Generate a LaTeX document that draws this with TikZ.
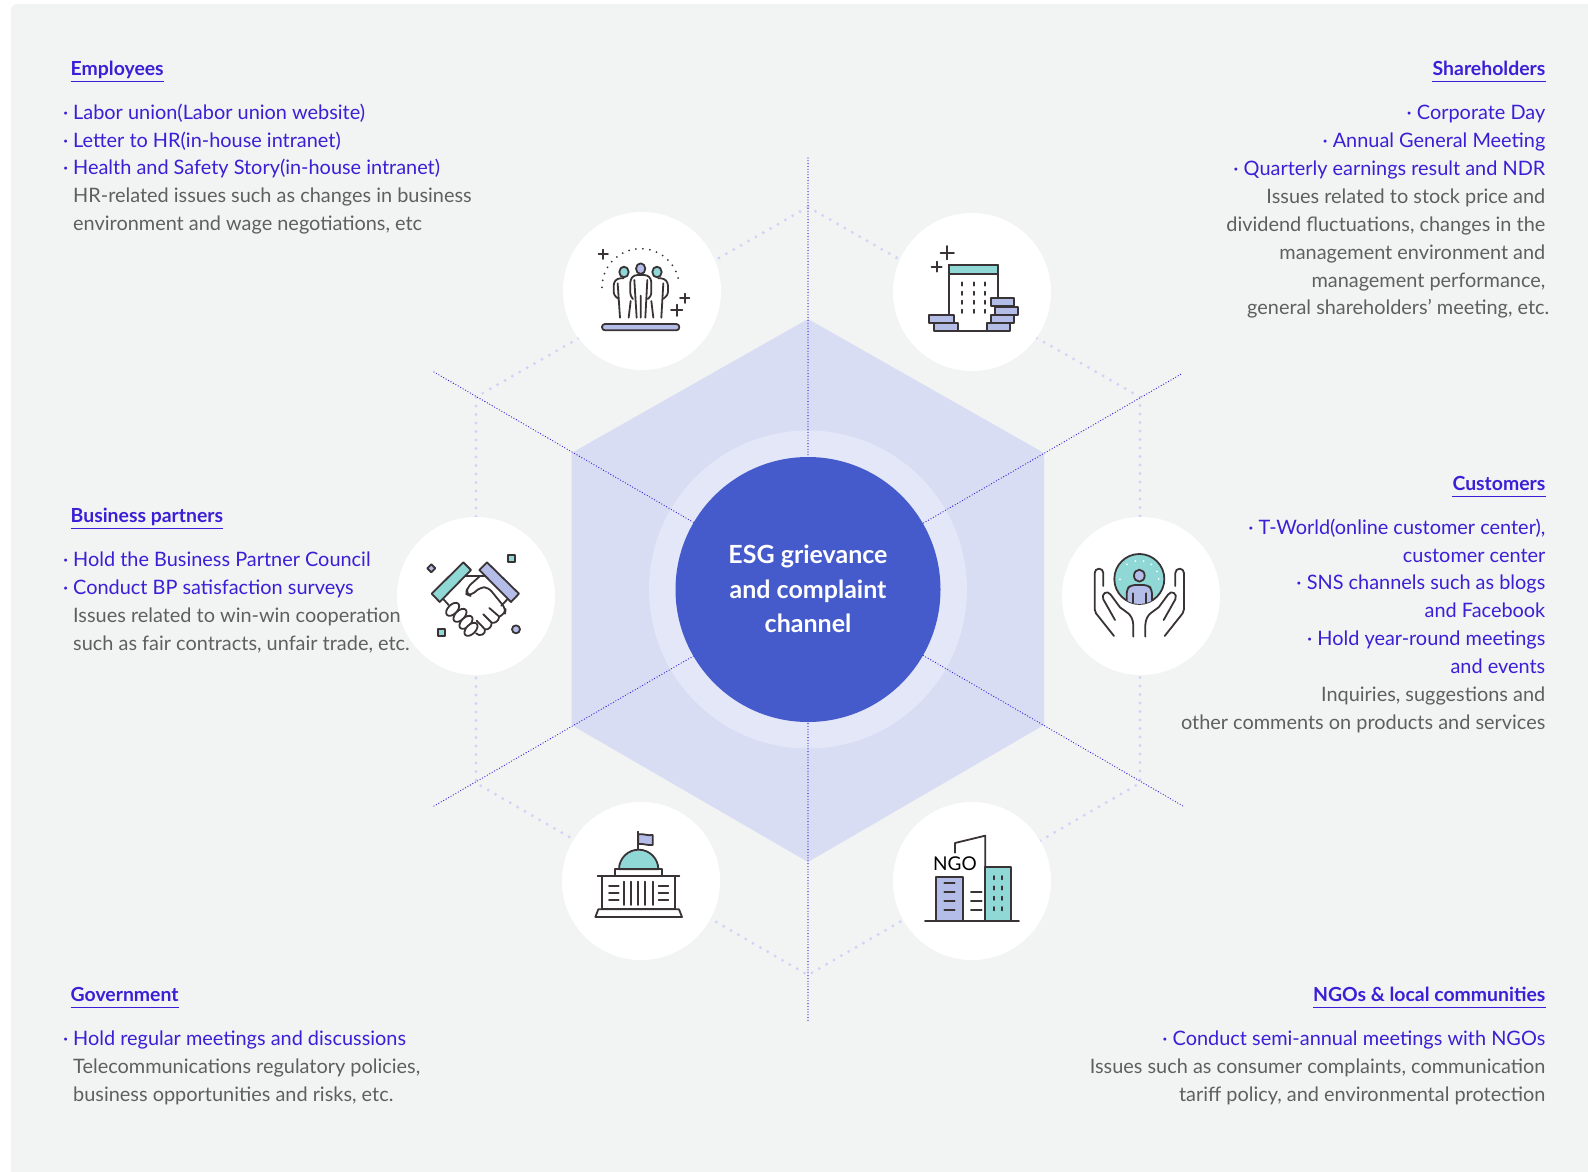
\documentclass[tikz,border=0pt]{standalone}
\usepackage{fontspec}
\setmainfont{Lato}
\usetikzlibrary{positioning}
\definecolor{panelc}{HTML}{F2F4F3}
\definecolor{hexc}{HTML}{D9DDF4}
\definecolor{haloc}{HTML}{E4E7F8}
\definecolor{hubc}{HTML}{465BCB}
\definecolor{bluec}{HTML}{3A1FD6}
\definecolor{greyc}{HTML}{5F5F5F}
\definecolor{dotc}{HTML}{D0D4F6}
\definecolor{inkc}{HTML}{3A3335}
\definecolor{tealc}{HTML}{8FD8D5}
\definecolor{peric}{HTML}{B4BCE8}
\newcommand{\bl}{\color{bluec}}
\newcommand{\gr}{\color{greyc}}
\newcommand{\dt}{\llap{·\hspace{5pt}}}
\begin{document}
\begin{tikzpicture}[x=1pt,y=-1pt,
		iconbg/.style = {draw=none, circle, fill=white, minimum size=158pt, inner sep=0pt},
		head/.style = {font=\fontsize{19.4}{24}\selectfont\bfseries, text=bluec, inner sep=0pt, text depth=6pt},
		under/.style = {draw=bluec, line width=0.9pt},
		leftlist/.style = {anchor=north west, align=left, inner sep=0pt, font=\fontsize{19.9}{27.9}\selectfont},
		rightlist/.style = {anchor=north east, align=right, inner sep=0pt, font=\fontsize{19.9}{27.9}\selectfont},
		outer/.style = {draw=dotc, line width=3.3pt, line cap=round, dash pattern=on 0pt off 8.5pt},
		axis/.style = {draw=bluec, line width=1.3pt, line cap=round, dash pattern=on 0pt off 2.8pt},
		ink/.style = {draw=inkc, line width=1.8pt, line join=round, line cap=round}]
	\useasboundingbox (0,0) rectangle (1588,1171);
	\fill[panelc, rounded corners=6pt] (11,4) rectangle (1620,1200);
	\fill[hexc] (808,319) -- (1044,453) -- (1044,725) -- (808,862) -- (571.5,725) -- (571.5,453) -- cycle;
	\fill[haloc] (808,589.5) circle [radius=159];
	\coordinate (o1) at (808,207);
	\coordinate (o2) at (1140,397);
	\coordinate (o3) at (1140,783);
	\coordinate (o4) at (808,975);
	\coordinate (o5) at (476,783);
	\coordinate (o6) at (476,397);
	\draw[outer] (o1)--(o2)--(o3)--(o4)--(o5)--(o6)--(o1);
	\coordinate (a1) at (808,158);
	\coordinate (a2) at (808,1021);
	\coordinate (a3) at (434,372);
	\coordinate (a4) at (1183,806);
	\coordinate (a5) at (434,806);
	\coordinate (a6) at (1183,373);
	\draw[axis] (a1)--(a2);
	\draw[axis] (a3)--(a4);
	\draw[axis] (a5)--(a6);
	\node[circle, fill=hubc, minimum size=265pt, inner sep=0pt, align=center, text=white, font=\fontsize{25}{34.3}\selectfont\bfseries] (hub) at (808,589.5) {\raisebox{1pt}{ESG grievance}\\\raisebox{1pt}{and complaint}\\\raisebox{1pt}{channel}};
	\node[iconbg] (staff) at (642,291) {};
	\node[iconbg] (stock) at (972,292) {};
	\node[iconbg] (partner) at (476,596) {};
	\node[iconbg] (client) at (1141,596) {};
	\node[iconbg] (gov) at (641,881) {};
	\node[iconbg] (ngo) at (972,881) {};

	\begin{scope}[shift={(540,190)},scale=0.3333]
		\draw[ink, line width=2pt, dash pattern=on 0pt off 7pt] (186,292) arc [start angle=180, end angle=353, radius=116];
		\draw[ink, fill=tealc] (252,246) ellipse [x radius=14, y radius=16];
		\draw[ink, fill=peric] (302,236) ellipse [x radius=14, y radius=16];
		\draw[ink, fill=tealc] (351,246) ellipse [x radius=14, y radius=16];
		\draw[ink, rounded corners=3pt] (279,327)--(271,318)--(271,268)--(283,255)--(322,255)--(334,268)--(334,318)--(323,327);
		\draw[ink] (283,270)--(290,383) (322,270)--(316,383) (302,317)--(302,383);
		\draw[ink, rounded corners=3pt] (235,326)--(221,315)--(221,278)--(232,265)--(250,265);
		\draw[ink] (233,280)--(240,383) (272,333)--(266,383);
		\draw[ink, rounded corners=3pt] (370,326)--(384,315)--(384,278)--(372,265)--(355,265);
		\draw[ink] (370,280)--(364,383) (334,333)--(340,383);
		\draw[ink, fill=peric, rounded corners=3pt] (186,402) rectangle (418,421);
		\foreach \px/\py/\ps in {190/193/14,434/325/14,410/361/17,1222/188/20,1190/230/15}
			\draw[ink] ({\px-\ps},\py)--({\px+\ps},\py) (\px,{\py-\ps})--(\px,{\py+\ps});
		\draw[ink] (1227,225) rectangle (1375,423);
		\draw[ink, fill=tealc] (1227,225) rectangle (1375,251);
		\foreach \px in {1266,1301,1335}
			\foreach \py in {282,310,337,364}
				\draw[ink] (\px,{\py-5})--(\px,{\py+5});
		\foreach \cx/\cy/\cw in {1353/325/68,1365/350/68,1353/375/68,1341/400/68,1167/374/74,1181/399/73}
			\draw[ink, fill=peric] (\cx,\cy) rectangle ({\cx+\cw},{\cy+24});
	\end{scope}

	\begin{scope}[shift={(390,510)},scale=0.3333]
		\draw[ink] (222,198)--(285,198);
		\draw[ink] (158,265)--(176,285) (352,268)--(334,287);
		\draw[ink, fill=tealc] (220,157)--(243,180)--(149,276)--(125,251)--cycle;
		\draw[ink, fill=peric] (291,157)--(268,180)--(363,276)--(387,251)--cycle;
		\draw[ink, rounded corners=5pt] (268,200)--(232,232)--(228,252)--(242,258)--(270,232)--(295,232)--(347,296)--(345,312)--(328,320);
		\draw[ink] (298,294)--(328,320) .. controls (325,335) and (315,340) .. (305,338);
		\draw[ink] (280,313)--(305,338) .. controls (305,352) and (295,360) .. (285,358);
		\draw[ink] (260,332)--(285,358) .. controls (288,372) and (270,382) .. (258,370);
		\foreach \fx/\fy in {188/298,210/316,228/337,243/358}
			\draw[ink, fill=white, rotate around={45:(\fx,\fy)}] (\fx,\fy) ellipse [x radius=24, y radius=14];
		\draw[ink, fill=tealc] (143,357) rectangle (165,379);
		\draw[ink, fill=tealc] (353,134) rectangle (375,156);
		\draw[ink, fill=peric] (124,163)--(136,175)--(124,187)--(112,175)--cycle;
		\draw[ink, fill=peric] (378,358) circle [radius=12];
	\end{scope}

	\begin{scope}[shift={(1060,510)},scale=0.3333]
		\draw[ink, fill=tealc] (238,207) circle [radius=75];
		\begin{scope}
			\clip (238,207) circle [radius=75];
			\draw[ink, fill=peric, rounded corners=4pt] (200,290)--(200,238)--(212,225)--(264,225)--(276,238)--(276,290)--cycle;
			\draw[ink] (218,250)--(218,285) (258,250)--(258,285);
		\end{scope}
		\draw[ink, fill=peric] (238,197) ellipse [x radius=16, y radius=18];
		\foreach \wx/\wy in {180/208,201/163,226/153,251/153,274/163,291/184,296/207}
			\fill[white] (\wx,\wy) circle [radius=3];
		\draw[ink] (162,378)--(108,310) .. controls (105,306) and (104,303) .. (104,298) -- (104,189) arc [start angle=180, end angle=360, radius=13] -- (130,228);
		\draw[ink] (165,330)--(130,268) .. controls (122,252) and (142,238) .. (152,254) -- (180,292) .. controls (195,305) and (218,310) .. (220,345) -- (220,380);
		\draw[ink] (314,378)--(368,310) .. controls (371,306) and (372,303) .. (372,298) -- (372,189) arc [start angle=360, end angle=180, radius=13] -- (346,228);
		\draw[ink] (311,330)--(346,268) .. controls (354,252) and (334,238) .. (324,254) -- (296,292) .. controls (281,305) and (258,310) .. (256,345) -- (256,380);
	\end{scope}

	\begin{scope}[shift={(560,800)},scale=0.3333]
		\draw[ink] (235,95)--(235,150);
		\draw[ink, fill=peric] (235,103) .. controls (250,100) and (262,108) .. (278,105) -- (278,135) .. controls (262,137) and (250,130) .. (235,132) -- cycle;
		\draw[ink, fill=tealc] (177,208) arc [start angle=180, end angle=360, radius=59] -- cycle;
		\draw[ink] (165,208) rectangle (307,229);
		\draw[ink] (113,229)--(358,229);
		\draw[ink] (127,229) rectangle (345,328);
		\draw[ink] (115,328)--(357,328)--(366,351)--(106,351)--cycle;
		\foreach \cx in {193,214,235,255,279}
			\draw[ink] (\cx,245)--(\cx,315);
		\foreach \ly in {258,279,300}
			\draw[ink] (147,\ly)--(176,\ly) (296,\ly)--(325,\ly);
		\draw[ink] (1185,158)--(1185,129)--(1276,107)--(1276,360);
		\node[inner sep=0pt, text=black, font=\fontsize{19}{20}\selectfont] (ngotag) at (1185,192) {NGO};
		\draw[ink, fill=peric] (1128,230) rectangle (1209,362);
		\foreach \ly in {250,277,304,331}
			\draw[ink] (1153,\ly)--(1184,\ly);
		\foreach \ly in {277,304,331}
			\draw[ink] (1233,\ly)--(1265,\ly);
		\draw[ink, fill=tealc] (1276,201) rectangle (1352,362);
		\foreach \px in {1302,1326}
			\foreach \py in {233,264,295,326}
				\draw[ink] (\px,{\py-5})--(\px,{\py+5});
		\draw[ink] (1095,362)--(1377,362);
	\end{scope}

	\node[head, anchor=west] (emp) at (70.5,71) {Employees};
	\draw[under] (emp.south west)--(emp.south east);
	\node[leftlist] (emplist) at (73,103.5) {\bl\dt Labor union(Labor union website)\\\bl\dt Letter to HR(in-house intranet)\\\bl\dt Health and Safety Story(in-house intranet)\\\gr HR-related issues such as changes in business\\\gr environment and wage negotiations, etc};
	\node[head, anchor=west] (bp) at (70.5,518) {Business partners};
	\draw[under] (bp.south west)--(bp.south east);
	\node[leftlist] (bplist) at (73,551.5) {\bl\dt Hold the Business Partner Council\\\bl\dt Conduct BP satisfaction surveys\\\gr Issues related to win-win cooperation\\\gr such as fair contracts, unfair trade, etc.};
	\node[head, anchor=west] (govt) at (70.5,997.5) {Government};
	\draw[under] (govt.south west)--(govt.south east);
	\node[leftlist] (govlist) at (73,1030.5) {\bl\dt Hold regular meetings and discussions\\\gr Telecommunications regulatory policies,\\\gr business opportunities and risks, etc.};

	\node[head, anchor=east] (sh) at (1545.5,71) {Shareholders};
	\draw[under] (sh.south west)--(sh.south east);
	\node[rightlist] (shlist) at (1545.5,105) {\bl· Corporate Day\\\bl· Annual General Meeting\\\bl· Quarterly earnings result and NDR\\\gr Issues related to stock price and\\\gr dividend fluctuations, changes in the\\\gr management environment and\\\gr management performance,\\\gr general shareholders' meeting, etc.\hspace{-4pt}};
	\node[head, anchor=east] (cust) at (1545.5,486) {Customers};
	\draw[under] (cust.south west)--(cust.south east);
	\node[rightlist] (custlist) at (1545.5,518.5) {\bl· T-World(online customer center),\\\bl customer center\\\bl· SNS channels such as blogs\\\bl and Facebook\\\bl· Hold year-round meetings\\\bl and events\\\gr Inquiries, suggestions and\\\gr other comments on products and services};
	\node[head, anchor=east] (ngos) at (1545.5,997.5) {NGOs \& local communities};
	\draw[under] (ngos.south west)--(ngos.south east);
	\node[rightlist] (ngolist) at (1545.5,1030.5) {\bl· Conduct semi-annual meetings with NGOs\\\gr Issues such as consumer complaints, communication\\\gr tariff policy, and environmental protection};
\end{tikzpicture}
\end{document}
